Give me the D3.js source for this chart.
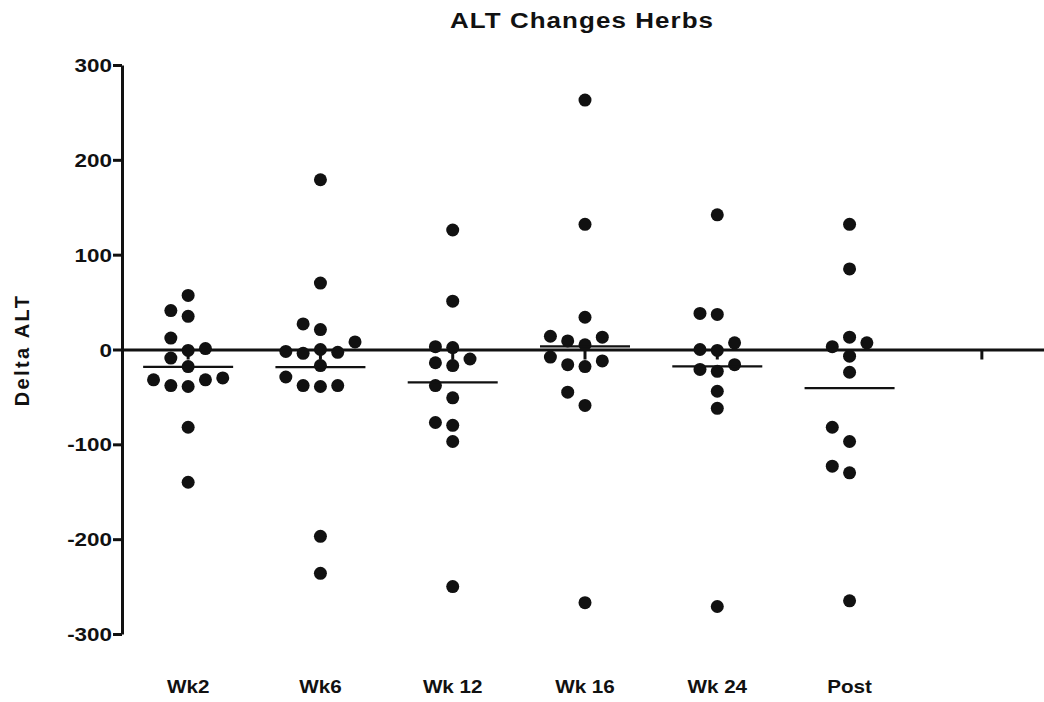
<!DOCTYPE html>
<html>
<head>
<meta charset="utf-8">
<script src="https://cdn.jsdelivr.net/npm/d3@7"></script>
<style>
  body { margin: 0; background: #fff; }
  text { font-family: "Liberation Sans", Arial, Helvetica, sans-serif; font-weight: bold; fill: #111; }
</style>
</head>
<body>
<svg id="chart" width="1044" height="702"></svg>
<script>
// Change in ALT from baseline, one array per visit
const categories = ["Wk2", "Wk6", "Wk 12", "Wk 16", "Wk 24", "Post", ""];
const wk2  = [57, 41, 35, 12, -1, 1, -9, -18, -30, -32, -39, -38, -32, -82, -140];
const wk6  = [179, 70, 27, 21, 8, -2, -3, -4, 0, -17, -38, -39, -38, -29, -197, -236];
const wk12 = [126, 51, 3, 2, -10, -17, -14, -38, -51, -80, -77, -97, -250];
const wk16 = [263, 132, 34, 14, 9, 13, 5, -8, -12, -18, -16, -45, -59, -267];
const wk24 = [142, 37, 38, 0, -1, 7, -16, -23, -21, -44, -62, -271];
const post = [132, 85, 13, 3, 7, -7, -24, -82, -97, -123, -130, -265];
const yTicks = [300, 200, 100, 0, -100, -200, -300];

const groups = [wk2, wk6, wk12, wk16, wk24, post, []];

const svg = d3.select("#chart");

const x = d3.scaleBand().domain(categories).range([122, 1048]);
const y = d3.scaleLinear().domain([-300, 300]).range([634, 65]);

const R = 6.5;          // dot radius
const SLOT = 17.3;      // horizontal spacing between side-by-side dots
const MIN_D = 16;       // minimum centre distance between dots
const WIDE = 1.18;      // horizontal widening of the lettering

// Helper: text stretched horizontally about its anchor point
function wideText(parent, px, py, str, size, anchor, spacing) {
  const g = parent.append("g").attr("transform", `translate(${px},${py}) scale(${WIDE},1)`);
  return g.append("text")
    .attr("text-anchor", anchor)
    .style("font-size", size + "px")
    .style("letter-spacing", (spacing || 0) + "px")
    .text(str);
}

// Title
wideText(svg, 582, 28, "ALT Changes Herbs", 22, "middle", 0.9);

// Y axis title
svg.append("text")
  .attr("transform", "translate(29,350) rotate(-90)")
  .attr("text-anchor", "middle")
  .style("font-size", "20px").style("letter-spacing", "2.4px")
  .text("Delta ALT");

// Y axis (labels drawn separately so they can be widened)
const yAxis = svg.append("g")
  .attr("transform", "translate(122,0)")
  .call(d3.axisLeft(y).tickValues(yTicks).tickSize(9).tickSizeOuter(0).tickFormat(""));
yAxis.select(".domain").attr("stroke", "#111").attr("stroke-width", 3);
yAxis.selectAll(".tick line").attr("stroke", "#111").attr("stroke-width", 3);

const yLabels = svg.append("g");
yTicks.forEach(t => {
  wideText(yLabels, 112, y(t) + 7, String(t), 19, "end", 0);
});

// Horizontal axis drawn through zero, with category ticks hanging below
const xAxis = svg.append("g")
  .attr("transform", `translate(0,${y(0)})`)
  .call(d3.axisBottom(x).tickSize(10).tickSizeOuter(0).tickFormat(""));
xAxis.select(".domain").attr("stroke", "#111").attr("stroke-width", 3);
xAxis.selectAll(".tick line").attr("stroke", "#111").attr("stroke-width", 3);

// Category labels along the bottom
const xLabels = svg.append("g");
categories.forEach(c => {
  if (!c) return;
  wideText(xLabels, x(c) + x.bandwidth() / 2, 693, c, 17.5, "middle", 0);
});

// Column scatter: greedy placement into horizontal slots around the centre
function swarm(values, cx) {
  const order = values.map((v, i) => i).sort((a, b) => values[a] - values[b]);
  const placed = [];
  const slots = [0, -1, 1, -2, 2, -3, 3, -4, 4];
  order.forEach(i => {
    const py = y(values[i]);
    for (const s of slots) {
      const px = cx + s * SLOT;
      const hit = placed.some(p => Math.hypot(p.x - px, p.y - py) < MIN_D);
      if (!hit) { placed.push({ x: px, y: py, v: values[i] }); break; }
    }
  });
  return placed;
}

const plot = svg.append("g");
groups.forEach((vals, gi) => {
  if (!vals.length) return;
  const cx = x(categories[gi]) + x.bandwidth() / 2;
  const pts = swarm(vals, cx);
  plot.selectAll(null).data(pts).enter().append("circle")
    .attr("cx", d => d.x).attr("cy", d => d.y).attr("r", R)
    .attr("fill", "#111");
  const m = d3.mean(vals);
  plot.append("line")
    .attr("x1", cx - 45).attr("x2", cx + 45)
    .attr("y1", y(m)).attr("y2", y(m))
    .attr("stroke", "#111").attr("stroke-width", 2.2);
});
</script>
</body>
</html>
